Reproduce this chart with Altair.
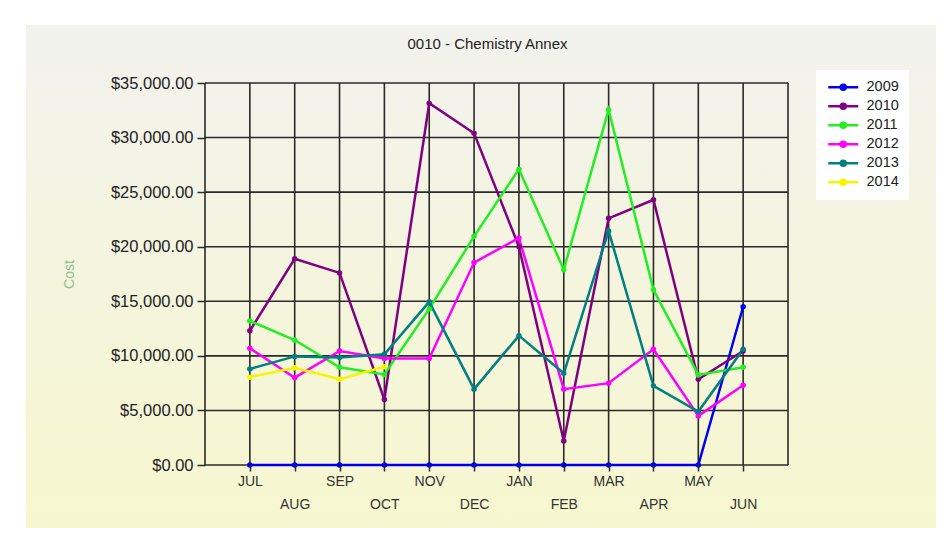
import altair as alt
import pandas as pd

title_text = "0010 - Chemistry Annex"
months = ["JUL", "AUG", "SEP", "OCT", "NOV", "DEC", "JAN", "FEB", "MAR", "APR", "MAY", "JUN"]
years = ["2009", "2010", "2011", "2012", "2013", "2014"]
c2009 = [0, 0, 0, 0, 0, 0, 0, 0, 0, 0, 0, 14500]
c2010 = [12300, 18900, 17600, 6000, 33150, 30400, 20000, 2200, 22600, 24300, 7850, 10450]
c2011 = [13200, 11450, 8950, 8300, 14300, 20950, 27100, 17900, 32550, 16050, 8250, 8950]
c2012 = [10700, 8000, 10450, 9750, 9750, 18550, 20800, 6950, 7500, 10600, 4500, 7300]
c2013 = [8800, 9950, 9850, 10150, 14950, 6950, 11850, 8400, 21450, 7250, 4900, 10600]
c2014 = [8050, 8900, 7850, 9000]
colors = ["#0000EE", "#800080", "#22EE22", "#FF00FF", "#008080", "#F5F500"]
y_ticks = [0, 5000, 10000, 15000, 20000, 25000, 30000, 35000]
x_grid = list(range(0, 14))

series = [c2009, c2010, c2011, c2012, c2013, c2014]
rows = []
for yr, vals in zip(years, series):
    for i, v in enumerate(vals):
        rows.append({"year": yr, "idx": i + 1, "month": months[i], "cost": v})
df = pd.DataFrame(rows)

xscale = alt.Scale(domain=[0, 13], nice=False, zero=False)
yscale = alt.Scale(domain=[0, 35000], nice=False)

font = "Liberation Sans"
month_js = "[" + ",".join("'%s'" % m for m in months) + "]"
label_expr = (
    "datum.value >= 1 && datum.value <= 12 ? "
    "(datum.value % 2 == 1 ? [" + month_js + "[datum.value-1]] : ['', " + month_js + "[datum.value-1]]) : ''"
)

bg = alt.Chart(pd.DataFrame({"a": [0]})).mark_rect(
    color=alt.Gradient(
        gradient="linear",
        stops=[alt.GradientStop(color="#f2f2ee", offset=0), alt.GradientStop(color="#f7f7cf", offset=1)],
        x1=0, x2=0, y1=0, y2=1,
    )
).encode(x=alt.value(-179), x2=alt.value(735), y=alt.value(-58), y2=alt.value(445))

xgrid = alt.Chart(pd.DataFrame({"idx": x_grid})).mark_rule(color="#2a2a2a", strokeWidth=1.6).encode(
    x=alt.X("idx:Q", scale=xscale)
)
ygrid = alt.Chart(pd.DataFrame({"cost": y_ticks})).mark_rule(color="#2a2a2a", strokeWidth=1.6).encode(
    y=alt.Y("cost:Q", scale=yscale)
)

lines = alt.Chart(df).mark_line(strokeWidth=2.5, point=alt.OverlayMarkDef(filled=True, size=30, opacity=1)).encode(
    x=alt.X(
        "idx:Q",
        scale=xscale,
        axis=alt.Axis(
            values=list(range(1, 13)), labelExpr=label_expr, title=None, grid=False, domain=False,
            tickSize=6, tickColor="#2a2a2a", tickWidth=1.5, labelPadding=3, labelBaseline="top",
            labelLineHeight=23, labelFont=font, labelFontSize=14, labelColor="#333333", zindex=1,
            labelFlush=False, labelOverlap=False,
        ),
    ),
    y=alt.Y(
        "cost:Q",
        scale=yscale,
        axis=alt.Axis(
            values=y_ticks, format="$,.2f", title="Cost", grid=False, domain=False,
            tickSize=8, tickColor="#2a2a2a", tickWidth=1.5, labelPadding=4,
            labelFont=font, labelFontSize=16.5, labelColor="#222222",
            titleFont=font, titleFontSize=14, titleFontWeight="normal", titleColor="#8fc08f",
            titleX=-135.5, titleY=191, titleAngle=-90, titleAlign="center", titleBaseline="middle",
            zindex=1, labelFlush=False,
        ),
    ),
    color=alt.Color(
        "year:N",
        scale=alt.Scale(domain=years, range=colors),
        legend=alt.Legend(
            title=None, orient="none", legendX=611, legendY=-13, fillColor="white", padding=10,
            symbolType="M-3,0H3M-0.5,0A0.5,0.5,0,1,1,0.5,0A0.5,0.5,0,1,1,-0.5,0Z",
            symbolSize=100, symbolStrokeWidth=2.5, symbolOffset=10, labelFont=font, labelFontSize=14.5,
            labelColor="#222222", labelOffset=16, rowPadding=3,
        ),
    ),
    order=alt.Order("idx:Q"),
)

chart = alt.layer(bg, xgrid, ygrid, lines).properties(
    width=583,
    height=382,
    padding={"left": 197, "top": 75, "right": 148, "bottom": 66},
    autosize=alt.AutoSizeParams(type="none"),
    title=alt.TitleParams(
        title_text, frame="group", anchor="middle", dx=-9, offset=0, dy=39,
        baseline="alphabetic", font=font, fontSize=15, fontWeight="normal", color="#222222",
    ),
).configure_view(stroke=None).configure(background="white")

chart.save("out.html", embed_options={"renderer": "svg", "actions": False})
